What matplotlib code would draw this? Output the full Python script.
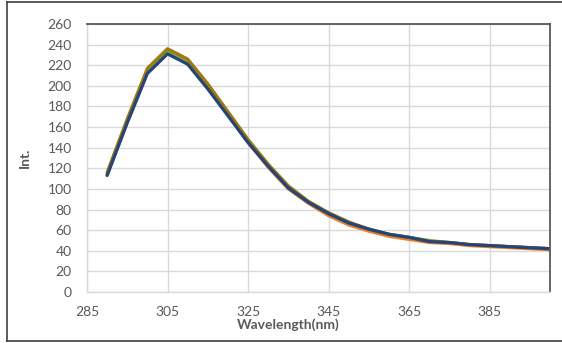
import matplotlib
matplotlib.use("Agg")
import matplotlib.pyplot as plt
from matplotlib.lines import Line2D

wavelength = [290, 295, 300, 305, 310, 315, 320, 325, 330, 335, 340, 345,
              350, 355, 360, 365, 370, 375, 380, 385, 390, 395, 400]

s_orange = [114, 166, 214, 233, 223, 199, 172, 145, 121, 100, 86, 74,
            65, 59, 54, 51, 48, 47, 45, 44, 43, 42, 41]
s_green = [114, 166, 214, 233, 222, 199, 173, 146, 122, 101, 87, 76,
           67, 61, 56, 53, 50, 48, 46, 45, 44, 43, 42]
s_gold = [116, 168, 217, 236, 226, 202, 175, 148, 124, 103, 88, 77,
          68, 61, 56, 53, 49, 48, 46, 45, 44, 43, 42]
s_blue = [113, 164, 212, 231, 221, 197, 171, 145, 122, 101, 87, 76,
          67, 61, 56, 53, 49, 48, 46, 45, 44, 43, 42]

series = [s_orange, s_green, s_gold, s_blue]
colors = ["#ED7D31", "#70AD47", "#9C7A0E", "#264478"]

x_ticks = [285, 305, 325, 345, 365, 385]
y_ticks = list(range(0, 261, 20))

fig = plt.figure(figsize=(5.62, 3.43), dpi=100)
ax = fig.add_axes([87/562, 51/343, (550-87)/562, (292-24)/343])

for s, c in zip(series, colors):
    ax.plot(wavelength, s, color=c, lw=2.3, solid_capstyle="round", solid_joinstyle="round")

ax.set_xlim(285, 400)
ax.set_ylim(0, 260)
ax.set_xticks(x_ticks)
ax.set_yticks(y_ticks)
ax.grid(True, color="#D9D9D9", lw=1)
ax.set_axisbelow(True)
ax.tick_params(axis="y", length=0, labelsize=10, colors="#595959", pad=11)
ax.tick_params(axis="x", length=0, labelsize=10, colors="#595959", pad=10)
for lab in ax.get_xticklabels() + ax.get_yticklabels():
    lab.set_family("Lato")

for side in ["left", "bottom"]:
    ax.spines[side].set_color("#D9D9D9")
    ax.spines[side].set_linewidth(1)
for side in ["top", "right"]:
    ax.spines[side].set_color("#595959")
    ax.spines[side].set_linewidth(1.3)

ax.set_xlabel("Wavelength(nm)", fontsize=10, fontweight="bold", color="#595959", family="Lato", labelpad=0)
ax.xaxis.label.set_x(0.434)
ax.set_ylabel("Int.", fontsize=10, fontweight="bold", color="#595959", family="Lato", labelpad=12)

# outer chart border (left, top, bottom)
fig.add_artist(Line2D([7/562, 7/562], [1 - 341/343, 1 - 2/343], transform=fig.transFigure, color="#404040", lw=1.2))
fig.add_artist(Line2D([7/562, 1], [1 - 2/343, 1 - 2/343], transform=fig.transFigure, color="#404040", lw=1.2))
fig.add_artist(Line2D([7/562, 1], [1 - 341/343, 1 - 341/343], transform=fig.transFigure, color="#404040", lw=1.2))

fig.savefig("out.png", dpi=100)
